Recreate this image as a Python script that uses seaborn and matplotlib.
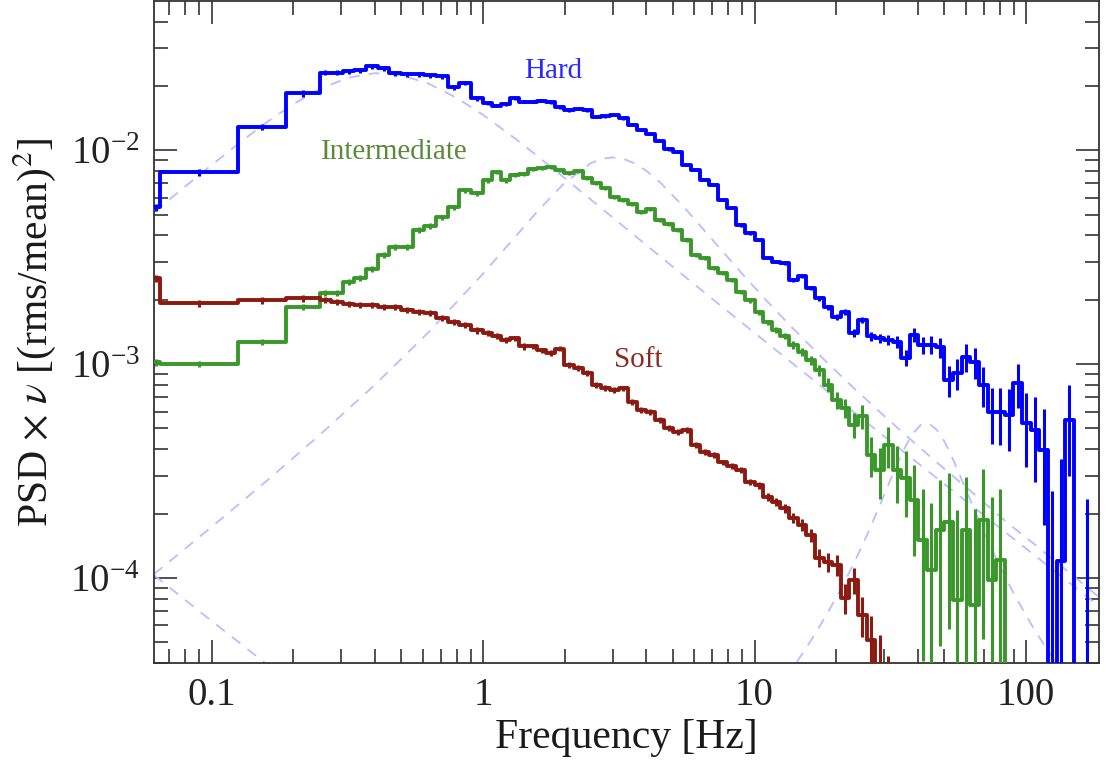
import numpy as np
import matplotlib
matplotlib.use("Agg")
import matplotlib.pyplot as plt
from matplotlib.ticker import LogLocator, NullFormatter, LogFormatterMathtext
import seaborn as sns

# ---------------- data ----------------
# frequency bin edges (Hz), shared by the three spectra
edges = [0.0605, 0.0646, 0.125, 0.1875, 0.25,
         0.276, 0.305, 0.336, 0.371, 0.410, 0.452, 0.499, 0.551, 0.608, 0.672, 0.741, 0.818, 0.904, 1.0,
         1.080, 1.166, 1.259, 1.359, 1.468, 1.585, 1.711, 1.848, 1.995, 2.154, 2.326, 2.512, 2.712, 2.929,
         3.162, 3.415, 3.687, 3.981, 4.299, 4.642, 5.012, 5.412, 5.843, 6.310, 6.813, 7.356, 7.943, 8.577,
         9.261, 10.0,
         10.76, 11.58, 12.45, 13.40, 14.42, 15.51, 16.69, 17.96, 19.32, 20.79, 22.37, 24.06, 25.89, 27.86,
         29.97, 32.25, 34.70, 37.33, 40.16, 43.21, 46.49, 50.02, 53.82, 57.91, 62.30, 67.03, 72.12, 77.60,
         83.49, 89.82, 96.64, 103.98, 111.87, 120.36, 129.50, 139.33, 149.90, 161.28, 173.52, 186.7]

hard_psd = [5.42e-3, 7.89e-3, 1.29e-2, 1.85e-2,
            2.31e-2, 2.31e-2, 2.34e-2, 2.37e-2, 2.47e-2, 2.42e-2, 2.29e-2, 2.27e-2, 2.27e-2, 2.24e-2,
            2.22e-2, 1.97e-2, 2.06e-2, 1.75e-2,
            1.66e-2, 1.62e-2, 1.64e-2, 1.75e-2, 1.69e-2, 1.69e-2, 1.71e-2, 1.68e-2, 1.59e-2, 1.54e-2,
            1.56e-2, 1.54e-2, 1.43e-2, 1.44e-2, 1.46e-2, 1.41e-2, 1.32e-2, 1.24e-2, 1.19e-2, 1.11e-2,
            1.01e-2, 9.79e-3, 8.51e-3, 8.07e-3, 7.24e-3, 6.86e-3, 5.84e-3, 5.36e-3, 4.46e-3, 4.09e-3,
            3.80e-3, 3.13e-3, 3.00e-3, 2.96e-3, 2.47e-3, 2.58e-3, 2.27e-3, 2.03e-3, 1.85e-3, 1.66e-3,
            1.75e-3, 1.40e-3, 1.61e-3, 1.35e-3, 1.32e-3, 1.30e-3, 1.27e-3, 1.07e-3, 1.37e-3, 1.23e-3,
            1.23e-3, 1.20e-3, 8.42e-4, 9.08e-4, 1.08e-3, 1.02e-3, 7.98e-4, 5.97e-4, 5.97e-4, 5.78e-4,
            8.15e-4, 5.30e-4, 4.92e-4, 3.96e-4, 2.5e-5, 1.2e-4, 5.5e-4, 2.0e-5, 2.5e-5, 2.0e-5]
hard_err = [1.9e-4, 2.8e-4, 4.5e-4, 6.5e-4,
            6.5e-4, 6.5e-4, 6.5e-4, 6.5e-4, 6.5e-4, 6.5e-4, 6.0e-4, 6.0e-4, 6.0e-4, 5.5e-4,
            5.5e-4, 5.0e-4, 4.5e-4, 4.0e-4,
            3.0e-4, 3.0e-4, 2.9e-4, 2.9e-4, 2.8e-4, 2.7e-4, 2.6e-4, 2.5e-4, 2.4e-4, 2.3e-4,
            2.2e-4, 2.1e-4, 2.0e-4, 1.9e-4, 1.8e-4, 1.7e-4, 1.6e-4, 1.5e-4, 1.4e-4, 1.3e-4,
            1.2e-4, 1.1e-4, 1.0e-4, 9.0e-5, 8.5e-5, 8.0e-5, 7.5e-5, 7.0e-5, 6.5e-5, 6.0e-5,
            4.0e-5, 4.0e-5, 4.0e-5, 4.0e-5, 4.5e-5, 4.5e-5, 4.5e-5, 5.0e-5, 5.0e-5, 5.0e-5,
            5.5e-5, 6.0e-5, 6.0e-5, 6.5e-5, 7.0e-5, 7.5e-5, 8.0e-5, 9.0e-5, 1.0e-4, 1.1e-4,
            1.2e-4, 1.3e-4, 1.4e-4, 1.5e-4, 1.6e-4, 1.65e-4, 1.7e-4, 1.75e-4, 1.8e-4, 1.85e-4,
            1.9e-4, 2.0e-4, 2.1e-4, 2.2e-4, 2.3e-4, 2.4e-4, 2.5e-4, 1.0e-5, 2.1e-4, 1.0e-5]

inter_psd = [1.02e-3, 1.00e-3, 1.27e-3, 1.85e-3,
             2.15e-3, 2.15e-3, 2.42e-3, 2.52e-3, 2.78e-3, 3.23e-3, 3.52e-3, 3.52e-3, 4.23e-3, 4.42e-3,
             4.86e-3, 5.42e-3, 6.50e-3, 6.30e-3,
             7.24e-3, 7.89e-3, 7.24e-3, 7.64e-3, 7.72e-3, 8.15e-3, 8.24e-3, 8.33e-3, 8.07e-3, 7.81e-3,
             7.98e-3, 7.40e-3, 7.01e-3, 6.64e-3, 6.03e-3, 5.84e-3, 5.59e-3, 5.13e-3, 5.30e-3, 4.71e-3,
             4.51e-3, 4.23e-3, 3.80e-3, 3.23e-3, 3.13e-3, 2.81e-3, 2.66e-3, 2.47e-3, 2.17e-3, 1.99e-3,
             1.75e-3, 1.57e-3, 1.44e-3, 1.35e-3, 1.23e-3, 1.14e-3, 1.04e-3, 9.38e-4, 7.98e-4, 6.79e-4,
             6.23e-4, 5.19e-4, 5.71e-4, 3.76e-4, 3.20e-4, 4.18e-4, 3.20e-4, 2.93e-4, 2.31e-4, 1.51e-4,
             1.09e-4, 1.68e-4, 1.83e-4, 7.89e-5, 1.68e-4, 7.48e-5, 1.87e-4, 9.79e-5, 1.21e-4, 1.0e-5]
inter_err = [3.5e-5, 3.5e-5, 4.5e-5, 6.5e-5,
             7.0e-5, 7.0e-5, 7.5e-5, 8.0e-5, 9.0e-5, 1.0e-4, 1.1e-4, 1.1e-4, 1.3e-4, 1.3e-4,
             1.4e-4, 1.5e-4, 1.7e-4, 1.6e-4,
             1.7e-4, 1.8e-4, 1.7e-4, 1.7e-4, 1.7e-4, 1.7e-4, 1.7e-4, 1.6e-4, 1.5e-4, 1.5e-4,
             1.4e-4, 1.3e-4, 1.2e-4, 1.2e-4, 1.1e-4, 1.0e-4, 1.0e-4, 9.0e-5, 9.0e-5, 8.0e-5,
             8.0e-5, 7.0e-5, 7.0e-5, 6.0e-5, 6.0e-5, 5.5e-5, 5.5e-5, 5.0e-5, 5.0e-5, 5.0e-5,
             4.5e-5, 4.5e-5, 4.5e-5, 4.5e-5, 5.0e-5, 5.0e-5, 5.0e-5, 5.5e-5, 6.0e-5, 6.0e-5,
             6.5e-5, 7.0e-5, 7.5e-5, 8.0e-5, 8.5e-5, 9.0e-5, 9.5e-5, 1.0e-4, 1.05e-4, 1.1e-4,
             1.15e-4, 1.2e-4, 1.25e-4, 1.3e-4, 1.3e-4, 1.35e-4, 1.35e-4, 1.4e-4, 1.4e-4, 5.0e-6]

soft_psd = [2.52e-3, 1.93e-3, 1.99e-3, 2.03e-3,
            1.99e-3, 1.95e-3, 1.91e-3, 1.89e-3, 1.89e-3, 1.85e-3, 1.85e-3, 1.79e-3, 1.75e-3, 1.73e-3,
            1.64e-3, 1.57e-3, 1.52e-3, 1.44e-3,
            1.40e-3, 1.35e-3, 1.30e-3, 1.32e-3, 1.21e-3, 1.21e-3, 1.16e-3, 1.13e-3, 1.18e-3, 9.89e-4,
            9.58e-4, 9.08e-4, 7.98e-4, 7.72e-4, 7.56e-4, 7.72e-4, 6.64e-4, 6.10e-4, 5.97e-4, 5.47e-4,
            5.02e-4, 4.81e-4, 4.92e-4, 4.18e-4, 3.88e-4, 3.76e-4, 3.48e-4, 3.34e-4, 3.20e-4, 2.81e-4,
            2.72e-4, 2.39e-4, 2.27e-4, 2.12e-4, 1.91e-4, 1.77e-4, 1.59e-4, 1.24e-4, 1.19e-4, 1.15e-4,
            8.07e-5, 9.79e-5, 6.72e-5, 5.13e-5, 3.92e-5, 3.0e-5, 2.0e-5]
soft_err = [9.0e-5, 7.0e-5, 7.0e-5, 7.0e-5,
            6.5e-5, 6.5e-5, 6.5e-5, 6.0e-5, 6.0e-5, 6.0e-5, 6.0e-5, 6.0e-5, 5.5e-5, 5.5e-5,
            5.5e-5, 5.0e-5, 5.0e-5, 5.0e-5,
            4.5e-5, 4.5e-5, 4.0e-5, 4.0e-5, 4.0e-5, 3.5e-5, 3.5e-5, 3.5e-5, 3.0e-5, 3.0e-5,
            3.0e-5, 2.8e-5, 2.6e-5, 2.4e-5, 2.3e-5, 2.2e-5, 2.0e-5, 1.9e-5, 1.8e-5, 1.7e-5,
            1.6e-5, 1.5e-5, 1.4e-5, 1.3e-5, 1.2e-5, 1.1e-5, 1.0e-5, 1.0e-5, 1.0e-5, 1.0e-5,
            1.0e-5, 1.0e-5, 1.0e-5, 1.0e-5, 1.0e-5, 1.1e-5, 1.1e-5, 1.2e-5, 1.2e-5, 1.3e-5,
            1.3e-5, 1.4e-5, 1.4e-5, 1.5e-5, 1.5e-5, 1.3e-5, 5.0e-6]

# model components (dashed), sampled from the figure
comp_low_nu = [0.0614, 0.1, 0.16]
comp_low_val = [1.03e-4, 6.3e-5, 3.94e-5]
comp_broad_nu = [0.0614, 0.08, 0.1, 0.13, 0.16, 0.2, 0.25, 0.32, 0.4, 0.5, 0.63, 0.8, 1.0, 1.3, 1.6,
                 2.0, 2.5, 3.2, 4.0, 5.0, 6.3, 8.0, 10, 13, 16, 20, 25, 32, 40, 50, 63, 80, 100, 130, 186]
comp_broad_val = [5.14e-3, 6.78e-3, 8.53e-3, 1.111e-2, 1.355e-2, 1.645e-2, 1.934e-2, 2.190e-2, 2.296e-2,
                  2.248e-2, 2.052e-2, 1.759e-2, 1.465e-2, 1.146e-2, 9.32e-3, 7.41e-3, 5.87e-3, 4.54e-3,
                  3.60e-3, 2.854e-3, 2.248e-3, 1.759e-3, 1.400e-3, 1.072e-3, 8.68e-4, 6.92e-4, 5.53e-4,
                  4.31e-4, 3.44e-4, 2.75e-4, 2.18e-4, 1.716e-4, 1.372e-4, 1.055e-4, 7.37e-5]
comp_mid_nu = [0.0614, 0.1, 0.16, 0.25, 0.4, 0.63, 1.0, 1.3, 1.6, 2.0, 2.5, 2.75, 3.0, 3.3, 3.6, 4.0, 4.5,
               5.5, 7, 9, 11, 14, 18, 23, 30, 40, 50, 65, 85, 110, 140, 186]
comp_mid_val = [1.042e-4, 1.730e-4, 2.851e-4, 4.656e-4, 8.015e-4, 1.410e-3, 2.648e-3, 3.878e-3, 5.248e-3,
                7.06e-3, 8.72e-3, 9.136e-3, 9.27e-3, 9.111e-3, 8.72e-3, 8.015e-3, 7.06e-3, 5.42e-3,
                3.817e-3, 2.648e-3, 1.999e-3, 1.448e-3, 1.052e-3, 7.81e-4, 5.73e-4, 4.14e-4, 3.24e-4,
                2.442e-4, 1.82e-4, 1.403e-4, 1.093e-4, 8.12e-5]
comp_qpo_nu = [13, 15, 17, 20, 23, 26, 29, 32, 35, 38, 41, 44, 47, 50, 54, 58, 63, 70, 80, 90, 105, 120, 135]
comp_qpo_val = [3.40e-5, 4.417e-5, 5.66e-5, 8.09e-5, 1.141e-4, 1.595e-4, 2.202e-4, 2.973e-4, 3.855e-4,
                4.682e-4, 5.206e-4, 5.265e-4, 4.916e-4, 4.353e-4, 3.558e-4, 2.878e-4, 2.236e-4, 1.636e-4,
                1.135e-4, 8.48e-5, 6.01e-5, 4.589e-5, 3.686e-5]

series_names = ["Hard", "Intermediate", "Soft"]
series_colors = ["#0000ff", "#3a982a", "#8c1a10"]
label_colors = ["#2a2aff", "#5a8a3a", "#8b2a22"]
label_pos = [(1.81, 0.0217), (0.472, 9.08e-3), (3.74, 9.68e-4)]

x_ticks = [0.1, 1, 10, 100]
x_ticklabels = ["0.1", "1", "10", "100"]
y_ticks = [1e-4, 1e-3, 1e-2]

# ---------------- styling ----------------
sns.set_theme(style="ticks")
plt.rcParams.update({
    "font.family": ["serif"],
    "font.serif": ["Liberation Serif", "DejaVu Serif"],
    "mathtext.fontset": "stix",
    "axes.edgecolor": "#333333",
    "axes.linewidth": 1.3,
    "xtick.color": "#222222",
    "ytick.color": "#222222",
    "text.color": "#1a1a1a",
    "axes.labelcolor": "#1a1a1a",
})

fig = plt.figure(figsize=(11.08, 7.6), dpi=100)
ax = fig.add_axes([0.139, 0.1276, 0.8529, 0.8705])
ax.set_xscale("log")
ax.set_yscale("log")

dash_color = "#bcbcff"
for nu, val in [(comp_low_nu, comp_low_val), (comp_broad_nu, comp_broad_val),
                (comp_mid_nu, comp_mid_val), (comp_qpo_nu, comp_qpo_val)]:
    sns.lineplot(x=np.array(nu), y=np.array(val), ax=ax, color=dash_color, linewidth=1.3,
                 linestyle=(0, (6, 5)), estimator=None, sort=False, zorder=1)

e_all = np.array(edges)
for psd, err, col in [(hard_psd, hard_err, series_colors[0]),
                      (inter_psd, inter_err, series_colors[1]),
                      (soft_psd, soft_err, series_colors[2])]:
    n = len(psd)
    e = e_all[:n + 1]
    yv = np.append(np.array(psd), psd[-1])
    sns.lineplot(x=e, y=yv, ax=ax, color=col, linewidth=2.8, drawstyle="steps-post",
                 estimator=None, sort=False, zorder=3)
    centers = np.sqrt(e[:-1] * e[1:])
    ax.errorbar(centers, psd, yerr=err, fmt="none", ecolor=col, elinewidth=2.2, capsize=0, zorder=3)

for name, c, (px, py) in zip(series_names, label_colors, label_pos):
    ax.text(px, py, name, color=c, fontsize=21, ha="center", va="baseline")

ax.set_xlim(0.0614, 185.7)
ax.set_ylim(4.0e-5, 0.0497)

ax.set_xticks(x_ticks)
ax.set_xticklabels(x_ticklabels)
ax.xaxis.set_minor_locator(LogLocator(base=10, subs=np.arange(2, 10)))
ax.xaxis.set_minor_formatter(NullFormatter())
ax.set_yticks(y_ticks)
ax.yaxis.set_major_formatter(LogFormatterMathtext())
ax.yaxis.set_minor_locator(LogLocator(base=10, subs=np.arange(2, 10)))
ax.yaxis.set_minor_formatter(NullFormatter())

ax.tick_params(which="both", direction="in", top=True, right=True)
ax.tick_params(which="major", length=16.5, width=1.1, labelsize=28, pad=10)
ax.tick_params(which="minor", length=10, width=1.1)

ax.set_xlabel("Frequency [Hz]", fontsize=30, labelpad=3)
ax.set_ylabel(r"PSD $\times$ $\nu$ [(rms/mean)$^2$]", fontsize=30, labelpad=9)

fig.savefig("out.png", dpi=100, facecolor="white")
